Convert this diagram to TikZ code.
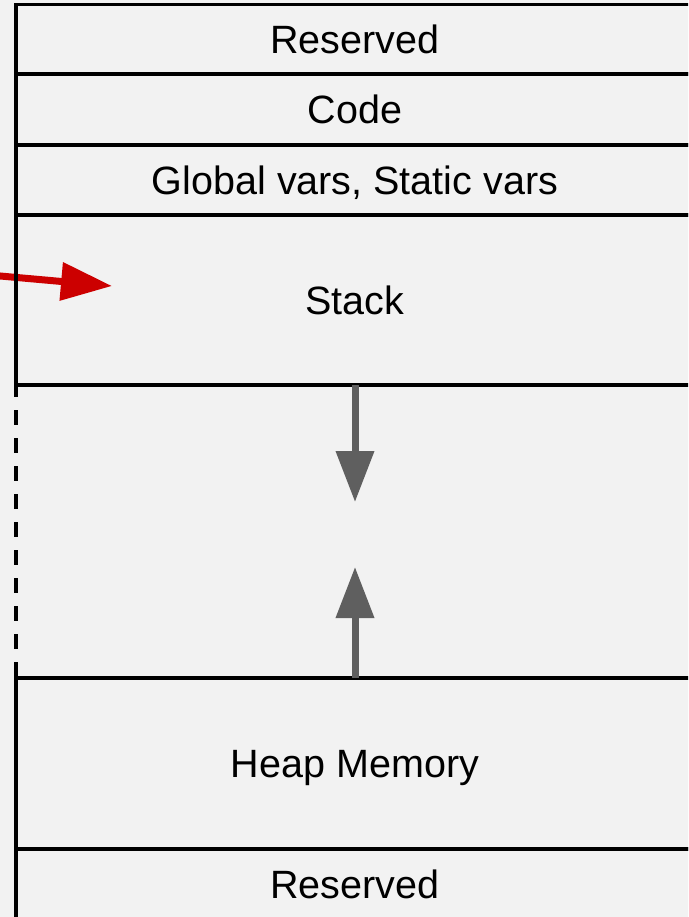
\documentclass[tikz,border=0pt]{standalone}
\usepackage{fontspec}
\setmainfont{Liberation Sans}
\usetikzlibrary{arrows.meta}
\definecolor{bg}{HTML}{F2F2F2}
\definecolor{redarrow}{HTML}{CC0000}
\definecolor{grayarrow}{HTML}{5F5F5F}
\begin{document}
\begin{tikzpicture}[x=1pt,y=-1pt,
  mem/.style={draw=black, line width=3.3pt, fill=bg, minimum width=678pt,
    inner sep=0pt, outer sep=0pt, font=\fontsize{39.5}{47}\selectfont,
    text height=28.3pt, text depth=0pt},
  gapbox/.style={fill=bg, draw=none, minimum width=678pt, inner sep=0pt, outer sep=0pt},
  dashedge/.style={draw=black, line width=3.3pt, dash pattern=on 15pt off 13pt, dash phase=3pt},
  growth/.style={draw=grayarrow, line width=7pt, -{Triangle[length=51pt,width=37pt]}},
  pointer/.style={draw=redarrow, line width=7pt, -{Triangle[length=51pt,width=37pt]}}]
\useasboundingbox (0,0) rectangle (688,917);
\clip (0,0) rectangle (688,917);
\fill[bg] (0,0) rectangle (688,917);
% gap region between stack and heap
\node[gapbox, minimum height=293pt] (gap) at (355,531.5) {};
% memory segments
\node[mem, minimum height=69.5pt] (res1) at (355,39.25) {Reserved};
\node[mem, minimum height=71pt] (code) at (355,109.5) {Code};
\node[mem, minimum height=70pt] (glob) at (355,180) {Global vars, Static vars};
\node[mem, minimum height=170pt] (stack) at (355,300) {Stack};
\node[mem, minimum height=171pt] (heap) at (355,763.5) {Heap Memory};
\node[mem, minimum height=70pt] (res2) at (355,884) {Reserved};
% dashed left edge of the free region
\draw[dashedge] (stack.south west) -- (heap.north west);
% growth arrows
\coordinate (dtip) at (355,502);
\coordinate (utip) at (355,567);
\draw[growth] (stack.south) -- (dtip);
\draw[growth] (heap.north) -- (utip);
% red pointer arrow
\coordinate (rstart) at (-20,274.2);
\coordinate (rtip) at (112,286);
\draw[pointer] (rstart) -- (rtip);
\draw[line width=3.3pt] (stack.north west) -- (stack.south west);
\end{tikzpicture}
\end{document}
